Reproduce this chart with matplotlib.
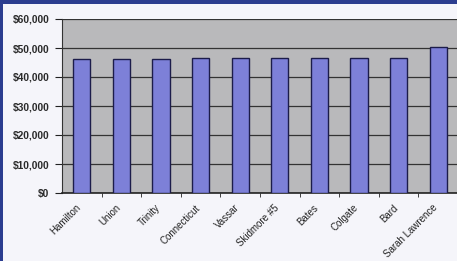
import matplotlib
matplotlib.use("Agg")
import matplotlib.pyplot as plt
from matplotlib.patches import Rectangle
from matplotlib.ticker import FuncFormatter
from matplotlib.transforms import ScaledTranslation

colleges = ["Hamilton", "Union", "Trinity", "Connecticut", "Vassar",
            "Skidmore #5", "Bates", "Colgate", "Bard", "Sarah Lawrence"]
costs = [46200, 46100, 46200, 46600, 46500, 46400, 46400, 46500, 46500, 50500]
yticks = [0, 10000, 20000, 30000, 40000, 50000, 60000]

W, H = 457, 261
fig = plt.figure(figsize=(W / 100, H / 100), dpi=100)
fig.patch.set_facecolor("#f5f5fa")

# frame bands
fig.patches.append(Rectangle((0, 1 - 4 / H), 1, 4 / H, transform=fig.transFigure,
                             facecolor="#2b3d8f", edgecolor="none", zorder=0))
fig.patches.append(Rectangle((0, 0), 2.5 / W, 1, transform=fig.transFigure,
                             facecolor="#2b3d8f", edgecolor="none", zorder=0))

left, right, top, bottom = 62, 458, 19, 193
ax = fig.add_axes([left / W, 1 - bottom / H, (right - left) / W, (bottom - top) / H])
ax.set_facecolor("#b9b9bb")

x = list(range(len(colleges)))
ax.bar(x, costs, width=0.43, color="#7d80d8", edgecolor="#1c1c4a", linewidth=1.0, zorder=3)

ax.set_ylim(0, 60000)
ax.set_xlim(-0.5, len(colleges) - 0.5 + (right - left) / 39.6 - len(colleges))
ax.set_yticks(yticks)
ax.yaxis.set_major_formatter(FuncFormatter(lambda v, p: f"${v:,.0f}"))
ax.grid(axis="y", color="#333333", linewidth=0.9, zorder=1)
ax.set_axisbelow(True)

ax.set_xticks(x)
ax.set_xticks([i + 0.5 for i in x], minor=True)
ax.tick_params(axis="x", which="major", length=0, pad=7)
ax.tick_params(axis="x", which="minor", length=3, color="#222222", direction="out")
ax.tick_params(axis="y", length=5, color="#222222", labelsize=7.4, pad=4)
ax.set_xticklabels(colleges, rotation=45, ha="right", rotation_mode="anchor",
                   fontsize=7.0, family="Liberation Sans", color="#222222")
offset = ScaledTranslation(-6 / 100, 0, fig.dpi_scale_trans)
for lab in ax.get_xticklabels():
    lab.set_transform(lab.get_transform() + offset)
for lab in ax.get_yticklabels():
    lab.set_family("Liberation Sans")
    lab.set_fontweight("bold")
    lab.set_color("#2a2a2a")

for s in ["top", "right"]:
    ax.spines[s].set_visible(False)
ax.spines["left"].set_color("#333333")
ax.spines["bottom"].set_color("#222222")
ax.spines["bottom"].set_linewidth(1.2)

fig.savefig("out.png", dpi=100, facecolor=fig.get_facecolor())
